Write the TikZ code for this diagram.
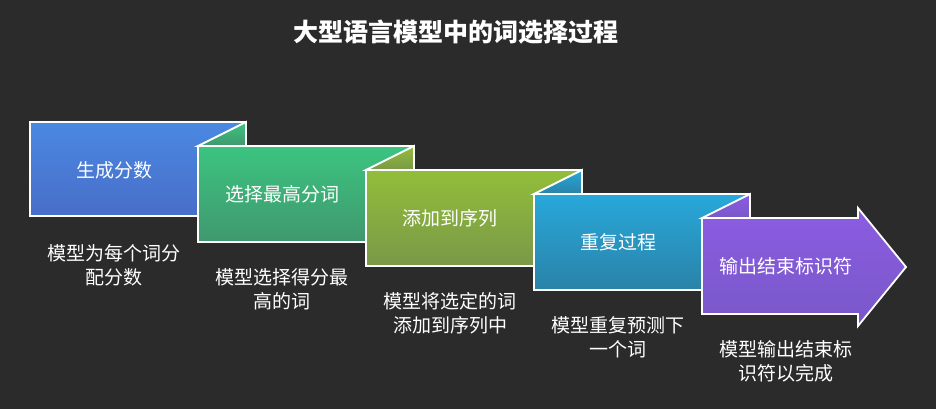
\documentclass[tikz,border=0pt]{standalone}
\usepackage{fontspec}
\newfontfamily\cjk{Noto Sans CJK SC}
\begin{document}
\begin{tikzpicture}[x=1pt,y=-1pt,
  edge/.style={draw=white,line width=1.8pt,line join=miter},
  boxtext/.style={text=white,font=\cjk\fontsize{19}{22}\selectfont},
  lab/.style={text=white,font=\cjk\fontsize{19}{24}\selectfont,align=center}]
\fill[fill={rgb,255:red,43;green,43;blue,43}] (0,0) rectangle (936,409);
\useasboundingbox (0,0) rectangle (936,409);
\definecolor{bA}{RGB}{74,136,226}\definecolor{bB}{RGB}{72,110,200}
\definecolor{gA}{RGB}{60,196,128}\definecolor{gB}{RGB}{64,152,110}
\definecolor{oA}{RGB}{146,190,58}\definecolor{oB}{RGB}{122,152,72}
\definecolor{cA}{RGB}{40,168,218}\definecolor{cB}{RGB}{42,130,168}
\definecolor{pA}{RGB}{140,92,226}\definecolor{pB}{RGB}{120,88,200}
\node[text=white,font=\cjk\bfseries\fontsize{25}{28}\selectfont] (title) at (456,32) {大型语言模型中的词选择过程};
\path[edge,top color=bA,bottom color=bB] (30,122) rectangle (246,216);
\path[edge,top color=gA,bottom color=gB] (198,146) -- (246,122) -- (246,146) -- cycle;
\path[edge,top color=gA,bottom color=gB] (198,146) rectangle (414,242);
\path[edge,top color=oA,bottom color=oB] (366,170) -- (414,146) -- (414,170) -- cycle;
\path[edge,top color=oA,bottom color=oB] (366,170) rectangle (582,266);
\path[edge,top color=cA,bottom color=cB] (534,194) -- (582,170) -- (582,194) -- cycle;
\path[edge,top color=cA,bottom color=cB] (534,194) rectangle (750,290);
\path[edge,top color=pA,bottom color=pB] (702,218) -- (750,194) -- (750,218) -- cycle;
\path[edge,top color=pA,bottom color=pB] (702,218) -- (858,218) -- (858,208) -- (906,267) -- (858,326) -- (858,314) -- (702,314) -- cycle;
\node[boxtext] (t1) at (114,170) {生成分数};
\node[boxtext] (t2) at (282,194) {选择最高分词};
\node[boxtext] (t3) at (450,218) {添加到序列};
\node[boxtext] (t4) at (618,242) {重复过程};
\node[boxtext] (t5) at (786,266) {输出结束标识符};
\node[lab] (l1) at (114,265) {模型为每个词分\\配分数};
\node[lab] (l2) at (282,289) {模型选择得分最\\高的词};
\node[lab] (l3) at (450,313) {模型将选定的词\\添加到序列中};
\node[lab] (l4) at (618,337) {模型重复预测下\\一个词};
\node[lab] (l5) at (786,361) {模型输出结束标\\识符以完成};
\end{tikzpicture}
\end{document}
